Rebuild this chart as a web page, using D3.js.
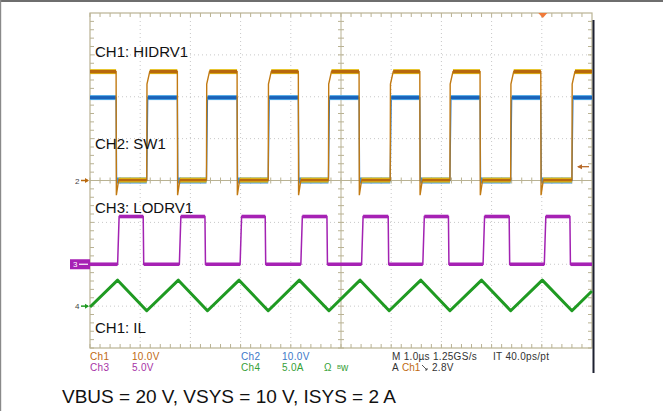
<!DOCTYPE html>
<html><head><meta charset="utf-8">
<script src="https://cdn.jsdelivr.net/npm/d3@7"></script>
<style>body{margin:0;background:#fff}svg{display:block}</style>
</head><body><svg id="c" width="663" height="411"></svg>
<script>
// ---- data (time in µs, 1 µs/div; 10 divs x 8 divs) ----
const timeDomain = [0, 10];
const divDomain = [-4, 4];
// channel settings
const chNames   = ["Ch1", "Ch2", "Ch3", "Ch4"];
const chScales  = ["10.0V", "10.0V", "5.0V", "5.0A"];
const chPerDiv  = [10, 10, 5, 5];
const chOffsets = [0, 0, -2, -3];   // ground marker position (divs)
// CH1 HIDRV1 edges (µs) and levels (V)
const hiRise = [1.13, 2.32, 3.55, 4.75, 5.98, 7.17, 8.38, 9.60];
const hiFall = [0.52, 1.74, 2.93, 4.15, 5.36, 6.57, 7.77, 8.98];
const hiLevels = {high: 26, step: 23, low: 0.1, under: -3.5};
// CH2 SW1 levels (V), same edges as CH1
const swLevels = {high: 19.8, low: 0};
// CH3 LODRV1 edges (µs) and levels (V)
const loRise = [0.55, 1.78, 2.99, 4.20, 5.41, 6.63, 7.83, 9.05];
const loFall = [1.06, 2.29, 3.49, 4.72, 5.94, 7.14, 8.35, 9.56];
const loLevels = {high: 5.7, low: 0};
// CH4 IL (A)
const ilTime  = [0, 0.55, 1.13, 1.76, 2.34, 2.97, 3.55, 4.17, 4.76, 5.38, 5.96, 6.59, 7.17, 7.80, 8.38, 9.01, 9.60, 10];
const ilValue = [-0.1, 3.1, -0.55, 3.1, -0.55, 3.1, -0.55, 3.1, -0.55, 3.1, -0.55, 3.1, -0.55, 3.1, -0.55, 3.1, -0.55, 1.8];
// text
const traceLabels = ["CH1: HIDRV1", "CH2: SW1", "CH3: LODRV1", "CH1: IL"];
const traceLabelDivs = [2.95, 0.75, -0.78, -3.63];
const title = "VBUS = 20 V, VSYS = 10 V, ISYS = 2 A";
const timebase = "M 1.0\u00b5s 1.25GS/s";
const recLen = "IT 40.0ps/pt";
const trigLevel = "2.8V";
const trigTime = 9.02;

// ---- scales ----
const svg = d3.select("#c");
const x = d3.scaleLinear().domain(timeDomain).range([90, 592]);
const y = d3.scaleLinear().domain(divDomain).range([348, 13]);
const toDiv = (ch, v) => v / chPerDiv[ch] + chOffsets[ch];

// outer frame
svg.append("rect").attr("x", 0).attr("y", 0).attr("width", 663).attr("height", 2).attr("fill", "#6e6e6e");
svg.append("rect").attr("x", 0).attr("y", 0).attr("width", 1.2).attr("height", 411).attr("fill", "#8a8a8a");

// ---- graticule ----
const g = svg.append("g");
const gridCol = "#c8c8c8", borderCol = "#b9b293";
d3.range(1, 10).filter(t => t !== 5).forEach(t => {
  g.append("line").attr("x1", x(t)).attr("x2", x(t)).attr("y1", y(4)).attr("y2", y(-4))
    .attr("stroke", gridCol).attr("stroke-width", 1).attr("stroke-dasharray", "1,3");
});
d3.range(-3, 4).filter(d => d !== 0).forEach(d => {
  g.append("line").attr("x1", x(0)).attr("x2", x(10)).attr("y1", y(d)).attr("y2", y(d))
    .attr("stroke", gridCol).attr("stroke-width", 1).attr("stroke-dasharray", "1,3");
});
// center axes
g.append("line").attr("x1", x(0)).attr("x2", x(10)).attr("y1", y(0)).attr("y2", y(0)).attr("stroke", borderCol);
g.append("line").attr("x1", x(5)).attr("x2", x(5)).attr("y1", y(4)).attr("y2", y(-4)).attr("stroke", borderCol);
const minorT = d3.range(0, 50).map(i => i * 0.2);
const minorD = d3.range(0, 40).map(i => -4 + i * 0.2);
minorT.forEach(t => {
  g.append("line").attr("x1", x(t)).attr("x2", x(t)).attr("y1", y(0) - 3).attr("y2", y(0) + 3).attr("stroke", borderCol);
  g.append("line").attr("x1", x(t)).attr("x2", x(t)).attr("y1", y(4)).attr("y2", y(4) + 4).attr("stroke", borderCol);
  g.append("line").attr("x1", x(t)).attr("x2", x(t)).attr("y1", y(-4)).attr("y2", y(-4) - 4).attr("stroke", borderCol);
});
minorD.forEach(d => {
  g.append("line").attr("x1", x(5) - 3).attr("x2", x(5) + 3).attr("y1", y(d)).attr("y2", y(d)).attr("stroke", borderCol);
  g.append("line").attr("x1", x(0)).attr("x2", x(0) + 4).attr("y1", y(d)).attr("y2", y(d)).attr("stroke", borderCol);
  g.append("line").attr("x1", x(10)).attr("x2", x(10) - 4).attr("y1", y(d)).attr("y2", y(d)).attr("stroke", borderCol);
});
g.append("rect").attr("x", x(0)).attr("y", y(4)).attr("width", x(10) - x(0)).attr("height", y(-4) - y(4))
  .attr("fill", "none").attr("stroke", borderCol).attr("stroke-width", 1.2);
// dark right edge of screen
svg.append("rect").attr("x", x(10) + 0.5).attr("y", 20).attr("width", 2).attr("height", 353).attr("fill", "#1d2030");

// ---- trace builders ----
const line = d3.line().x(d => x(d[0])).y(d => y(d[1]));
function buildSquare(rises, falls, ch, lv, riseShape, fallShape) {
  const ev = rises.map(t => ({t, r: true})).concat(falls.map(t => ({t, r: false}))).sort((a, b) => a.t - b.t);
  let state = ev.length && !ev[0].r ? "high" : "low";
  const pts = [[timeDomain[0], toDiv(ch, lv[state])]];
  const flats = [];
  let segStart = timeDomain[0];
  ev.forEach(e => {
    flats.push({a: segStart, b: e.t, v: toDiv(ch, lv[state]), level: state});
    const shape = e.r ? riseShape : fallShape;
    shape.forEach(([dt, key]) => pts.push([e.t + dt, toDiv(ch, lv[key])]));
    segStart = e.t + shape[shape.length - 1][0];
    state = e.r ? "high" : "low";
  });
  pts.push([timeDomain[1], toDiv(ch, lv[state])]);
  flats.push({a: segStart, b: timeDomain[1], v: toDiv(ch, lv[state]), level: state});
  return {pts, flats};
}
function drawFlats(flats, which, color, w) {
  flats.filter(f => which(f)).forEach(f => {
    svg.append("line").attr("x1", x(f.a)).attr("x2", x(f.b)).attr("y1", y(f.v)).attr("y2", y(f.v))
      .attr("stroke", color).attr("stroke-width", w);
  });
}

// CH2 SW1 (blue)
const sw = buildSquare(hiRise, hiFall, 1, swLevels, [[0, "low"], [0.02, "high"]], [[0, "high"], [0.01, "low"]]);
svg.append("path").attr("d", line(sw.pts)).attr("fill", "none").attr("stroke", "#2a78c8").attr("stroke-width", 1.3);
drawFlats(sw.flats, f => f.level === "high", "#4aa6e6", 5);
drawFlats(sw.flats, f => f.level === "high", "#1b62b8", 3);
drawFlats(sw.flats, f => f.level === "low", "#3d8fd8", 6);

// CH1 HIDRV1 (orange)
const hi = buildSquare(hiRise, hiFall, 0, hiLevels, [[0, "low"], [0.005, "step"], [0.06, "high"]], [[0, "high"], [0.005, "under"], [0.05, "low"]]);
drawFlats(hi.flats, f => true, "#e8c619", 5);
svg.append("path").attr("d", line(hi.pts)).attr("fill", "none").attr("stroke", "#c27a12").attr("stroke-width", 1.4);
drawFlats(hi.flats, f => f.level === "high", "#b8680c", 3.4);
drawFlats(hi.flats, f => f.level === "low", "#b86a10", 2.6);

// CH3 LODRV1 (purple)
const lo = buildSquare(loRise, loFall, 2, loLevels, [[0, "low"], [0.03, "high"]], [[0, "high"], [0.01, "low"]]);
svg.append("path").attr("d", line(lo.pts)).attr("fill", "none").attr("stroke", "#a222b2").attr("stroke-width", 1.5);
drawFlats(lo.flats, f => true, "#a622b4", 3.6);

// CH4 IL (green)
svg.append("path").attr("d", line(ilTime.map((t, i) => [t, toDiv(3, ilValue[i])])))
  .attr("fill", "none").attr("stroke", "#1f9a22").attr("stroke-width", 3).attr("stroke-linejoin", "round");

// ---- trace labels ----
traceLabels.forEach((t, i) => {
  svg.append("text").attr("x", 95).attr("y", y(traceLabelDivs[i])).text(t)
    .attr("font-family", "Liberation Sans, Arial, sans-serif").attr("font-size", 15).attr("fill", "#111");
});

// ---- markers ----
const mf = "Liberation Sans, Arial, sans-serif";
// ch1/2 ground marker
svg.append("text").attr("x", 75).attr("y", y(chOffsets[0]) + 3).text("2").attr("font-family", mf).attr("font-size", 8).attr("fill", "#444");
svg.append("path").attr("d", `M81,${y(0)} L88,${y(0)}`).attr("stroke", "#b8680c").attr("stroke-width", 1.5);
svg.append("path").attr("d", `M89,${y(0)} L85,${y(0) - 2.5} L85,${y(0) + 2.5}Z`).attr("fill", "#b8680c");
// ch3 marker
svg.append("rect").attr("x", 70).attr("y", y(chOffsets[2]) - 5).attr("width", 20).attr("height", 10).attr("fill", "#a622b4");
svg.append("text").attr("x", 73).attr("y", y(chOffsets[2]) + 3).text("3").attr("font-family", mf).attr("font-size", 8).attr("fill", "#fff");
svg.append("path").attr("d", `M79,${y(-2)} L88,${y(-2)}`).attr("stroke", "#fff").attr("stroke-width", 1.2);
// ch4 marker
svg.append("text").attr("x", 75).attr("y", y(chOffsets[3]) + 3).text("4").attr("font-family", mf).attr("font-size", 8).attr("fill", "#444");
svg.append("path").attr("d", `M81,${y(-3)} L88,${y(-3)}`).attr("stroke", "#1f9a22").attr("stroke-width", 1.5);
svg.append("path").attr("d", `M89,${y(-3)} L85,${y(-3) - 2.5} L85,${y(-3) + 2.5}Z`).attr("fill", "#1f9a22");
// trigger position marker (top)
svg.append("path").attr("d", `M${x(trigTime) - 4.5},${y(4)} L${x(trigTime) + 4.5},${y(4)} L${x(trigTime)},${y(4) + 5}Z`).attr("fill", "#f07a3a");
// trigger level marker (right)
const tl = y(toDiv(0, 2.8 + 0.5 + 0));
svg.append("path").attr("d", `M${x(10) - 14},${tl} L${x(10) - 3},${tl}`).attr("stroke", "#b86a2a").attr("stroke-width", 1.3);
svg.append("path").attr("d", `M${x(10) - 15},${tl} L${x(10) - 10},${tl - 2.5} L${x(10) - 10},${tl + 2.5}Z`).attr("fill", "#b86a2a");

// ---- readout ----
const lf = "Liberation Sans, Arial, sans-serif";
const ro = svg.append("g").attr("font-family", lf).attr("font-size", 10).attr("letter-spacing", 0.3);
const r1 = 360, r2 = 371;
const chColors = ["#c06a10", "#3b78c8", "#a632a6", "#36a036"];
ro.append("text").attr("x", 90).attr("y", r1).text(chNames[0]).attr("fill", chColors[0]);
ro.append("text").attr("x", 132).attr("y", r1).text(chScales[0]).attr("fill", chColors[0]);
ro.append("text").attr("x", 241).attr("y", r1).text(chNames[1]).attr("fill", chColors[1]);
ro.append("text").attr("x", 282).attr("y", r1).text(chScales[1]).attr("fill", chColors[1]);
ro.append("text").attr("x", 90).attr("y", r2).text(chNames[2]).attr("fill", chColors[2]);
ro.append("text").attr("x", 132).attr("y", r2).text(chScales[2]).attr("fill", chColors[2]);
ro.append("text").attr("x", 241).attr("y", r2).text(chNames[3]).attr("fill", chColors[3]);
ro.append("text").attr("x", 282).attr("y", r2).text(chScales[3]).attr("fill", chColors[3]);
ro.append("text").attr("x", 324).attr("y", r2).text("\u03a9").attr("fill", chColors[3]);
ro.append("text").attr("x", 337).attr("y", r2 - 2).text("B").attr("font-size", 6).attr("fill", chColors[3]);
ro.append("text").attr("x", 341).attr("y", r2).text("w").attr("fill", chColors[3]);
ro.append("text").attr("x", 392).attr("y", r1).text(timebase).attr("fill", "#333");
ro.append("text").attr("x", 493).attr("y", r1).text(recLen).attr("fill", "#333");
ro.append("text").attr("x", 392).attr("y", r2).text("A").attr("fill", "#333");
ro.append("text").attr("x", 402).attr("y", r2).text(chNames[0]).attr("fill", chColors[0]).attr("letter-spacing", 0);
ro.append("path").attr("d", `M422,${r2 - 6} L427,${r2 - 1} M425,${r2 - 1} L427,${r2 - 1} L427,${r2 - 3}`).attr("stroke", "#444").attr("fill", "none").attr("stroke-width", 0.9);
ro.append("text").attr("x", 432).attr("y", r2).text(trigLevel).attr("fill", "#333");

// ---- caption ----
svg.append("text").attr("x", 62).attr("y", 403).text(title)
  .attr("font-family", lf).attr("font-size", 19).attr("fill", "#111");
</script></body></html>
